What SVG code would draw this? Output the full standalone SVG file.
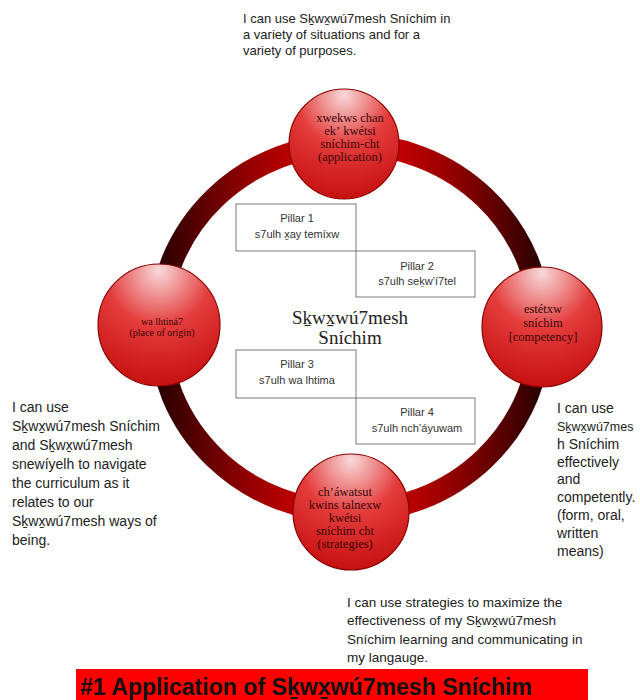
<svg xmlns="http://www.w3.org/2000/svg" width="640" height="700" viewBox="0 0 640 700">
  <defs>
    <linearGradient id="ringGrad" x1="0" y1="0" x2="1" y2="0">
      <stop offset="0" stop-color="#2a0000"/>
      <stop offset="0.25" stop-color="#9a0000"/>
      <stop offset="0.5" stop-color="#ea0000"/>
      <stop offset="0.75" stop-color="#9a0000"/>
      <stop offset="1" stop-color="#2a0000"/>
    </linearGradient>
    <radialGradient id="ballGrad" cx="0.5" cy="0.12" r="0.95" fx="0.5" fy="0.05">
      <stop offset="0" stop-color="#f8dada"/>
      <stop offset="0.45" stop-color="#e43c3c"/>
      <stop offset="1" stop-color="#c20a0a"/>
    </radialGradient>
    <style>
      .ball { fill: url(#ballGrad); stroke: #8a0000; stroke-width: 1.2; }
      .btxt { font-family: "Liberation Serif", "DejaVu Serif", serif; fill: #3a0606; text-anchor: middle; }
      .box { fill: #ffffff; stroke: #7a7a7a; stroke-width: 1; }
      .ptxt { font-family: "Liberation Sans", Arial, sans-serif; font-size: 11px; fill: #333333; text-anchor: middle; }
      .note { font-family: "Liberation Sans", Arial, sans-serif; fill: #222222; }
      .centre { font-family: "Liberation Serif", "DejaVu Serif", serif; font-size: 19px; fill: #222222; text-anchor: middle; }
    </style>
  </defs>

  <rect width="640" height="700" fill="#ffffff"/>

  <!-- ring joining the four outcomes -->
  <g id="connectors">
    <ellipse cx="350" cy="328" rx="191" ry="184" fill="none" stroke="url(#ringGrad)" stroke-width="22"/>
  </g>

  <!-- pillar boxes -->
  <g id="pillar1">
    <rect class="box" x="236" y="204" width="120" height="47"/>
    <text class="ptxt" x="297" y="222">Pillar 1</text>
    <text class="ptxt" x="297" y="238">s7ulh x̱ay temíxw</text>
  </g>
  <g id="pillar2">
    <rect class="box" x="356" y="251" width="119" height="46"/>
    <text class="ptxt" x="417" y="270">Pillar 2</text>
    <text class="ptxt" x="417" y="285">s7ulh seḵw’í7tel</text>
  </g>
  <g id="pillar3">
    <rect class="box" x="236" y="350" width="120" height="48"/>
    <text class="ptxt" x="297" y="368">Pillar 3</text>
    <text class="ptxt" x="297" y="384">s7ulh wa lhtima</text>
  </g>
  <g id="pillar4">
    <rect class="box" x="356" y="398" width="119" height="46"/>
    <text class="ptxt" x="417" y="416">Pillar 4</text>
    <text class="ptxt" x="417" y="432">s7ulh nch’áyuwam</text>
  </g>

  <!-- centre title -->
  <g id="centre">
    <text class="centre" x="350" y="324">Sḵwx̱wú7mesh</text>
    <text class="centre" x="350" y="344">Sníchim</text>
  </g>

  <!-- outcome spheres -->
  <g id="application">
    <circle class="ball" cx="344" cy="144" r="55"/>
    <text class="btxt" font-size="12.5" x="350" y="122">xwekws chan</text>
    <text class="btxt" font-size="12.5" x="350" y="135">ekʼ kwétsi</text>
    <text class="btxt" font-size="12.5" x="350" y="148">sníchim-cht</text>
    <text class="btxt" font-size="12.5" x="350" y="161">(application)</text>
  </g>
  <g id="origin">
    <circle class="ball" cx="159" cy="325" r="61"/>
    <text class="btxt" font-size="10" x="162" y="325">wa lhtiná7</text>
    <text class="btxt" font-size="10" x="162" y="336">(place of origin)</text>
  </g>
  <g id="competency">
    <circle class="ball" cx="542" cy="327" r="60"/>
    <text class="btxt" font-size="12.5" x="543" y="313">estétxw</text>
    <text class="btxt" font-size="12.5" x="543" y="327">sníchim</text>
    <text class="btxt" font-size="12.5" x="543" y="341">[competency]</text>
  </g>
  <g id="strategies">
    <circle class="ball" cx="351" cy="512" r="58"/>
    <text class="btxt" font-size="12.5" x="345" y="496">ch’áwatsut</text>
    <text class="btxt" font-size="12.5" x="345" y="509">kwins talnexw</text>
    <text class="btxt" font-size="12.5" x="345" y="522">kwétsi</text>
    <text class="btxt" font-size="12.5" x="345" y="535">sníchim cht</text>
    <text class="btxt" font-size="12.5" x="345" y="548">(strategies)</text>
  </g>

  <!-- outcome statements -->
  <g id="note-top" class="note" font-size="13">
    <text x="243" y="23">I can use Sḵwx̱wú7mesh Sníchim  in</text>
    <text x="243" y="39">a variety of situations and for a</text>
    <text x="243" y="55">variety of purposes.</text>
  </g>
  <g id="note-left" class="note" font-size="14">
    <text x="12" y="412">I can use</text>
    <text x="12" y="431">Sḵwx̱wú7mesh Sníchim</text>
    <text x="12" y="450">and Sḵwx̱wú7mesh</text>
    <text x="12" y="469">snewíyelh to navigate</text>
    <text x="12" y="488">the curriculum as it</text>
    <text x="12" y="507">relates to our</text>
    <text x="12" y="526">Sḵwx̱wú7mesh ways of</text>
    <text x="12" y="545">being.</text>
  </g>
  <g id="note-right" class="note" font-size="14">
    <text x="557" y="413">I can use</text>
    <text x="557" y="431" font-size="12.5">Sḵwx̱wú7mes</text>
    <text x="557" y="449">h Sníchim</text>
    <text x="557" y="467">effectively</text>
    <text x="557" y="484">and</text>
    <text x="557" y="502">competently.</text>
    <text x="557" y="520">(form, oral,</text>
    <text x="557" y="538">written</text>
    <text x="557" y="556">means)</text>
  </g>
  <g id="note-bottom" class="note" font-size="13.5">
    <text x="347" y="607">I can use strategies to maximize the</text>
    <text x="347" y="625">effectiveness of my Sḵwx̱wú7mesh</text>
    <text x="347" y="644">Sníchim learning and communicating in</text>
    <text x="347" y="662">my langauge.</text>
  </g>

  <!-- heading banner -->
  <g id="banner">
    <rect x="76" y="669" width="512" height="31" fill="#ff0000"/>
    <text x="80" y="695" font-family="'Liberation Sans', Arial, sans-serif" font-weight="bold" font-size="23" fill="#111111" textLength="452" lengthAdjust="spacingAndGlyphs">#1 Application of Sḵwx̱wú7mesh Sníchim</text>
  </g>
</svg>
